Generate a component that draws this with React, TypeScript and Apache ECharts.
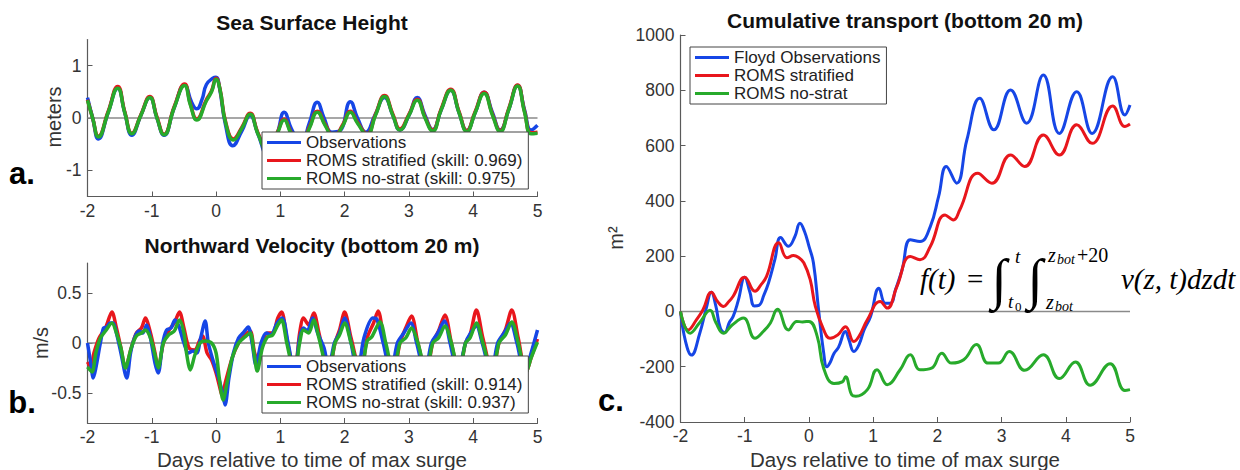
import React, { useEffect, useRef } from 'react';
import * as echarts from 'echarts';

// ---------- data ----------
const dayTicks = [-2, -1, 0, 1, 2, 3, 4, 5];
const sshTicks = [-1, 0, 1];
const velTicks = [-0.5, 0, 0.5];
const transportTicksInterval = 200;

const sshObs: number[][] = [
  [-2, 0.39], [-1.92, 0.0], [-1.83, -0.4], [-1.68, 0.1], [-1.53, 0.57], [-1.42, 0.1], [-1.31, -0.33],
  [-1.17, 0.05], [-1.03, 0.39], [-0.92, 0.0], [-0.81, -0.33], [-0.65, 0.2], [-0.49, 0.63], [-0.38, 0.3],
  [-0.3, 0.175], [-0.22, 0.35], [-0.15, 0.64], [-0.05, 0.76], [0.0, 0.78], [0.05, 0.6], [0.15, -0.15],
  [0.26, -0.53], [0.4, -0.25], [0.53, 0.05], [0.65, -0.3], [0.8, -0.7], [0.95, -0.3], [1.06, 0.11],
  [1.17, -0.2], [1.32, -0.5], [1.45, -0.1], [1.575, 0.3], [1.68, 0.0], [1.8, -0.27], [1.92, -0.25],
  [2.09, 0.31], [2.2, 0.0], [2.33, -0.27], [2.47, 0.05], [2.62, 0.39], [2.75, 0.05], [2.86, -0.23],
  [3.0, 0.05], [3.13, 0.39], [3.25, 0.05], [3.37, -0.22], [3.5, 0.15], [3.65, 0.53], [3.78, 0.1],
  [3.9, -0.24], [4.03, 0.1], [4.17, 0.49], [4.3, 0.1], [4.42, -0.23], [4.55, 0.15], [4.69, 0.62],
  [4.8, 0.15], [4.9, -0.23], [5.0, -0.14],
];
const sshStrat: number[][] = [
  [-2, 0.35], [-1.92, 0.0], [-1.83, -0.35], [-1.68, 0.12], [-1.53, 0.6], [-1.42, 0.12], [-1.31, -0.29],
  [-1.17, 0.06], [-1.03, 0.41], [-0.92, 0.02], [-0.81, -0.31], [-0.65, 0.22], [-0.49, 0.65], [-0.4, 0.27],
  [-0.3, -0.02], [-0.15, 0.35], [-0.07, 0.52], [0.0, 0.76], [0.06, 0.56], [0.15, -0.08], [0.27, -0.4],
  [0.4, -0.18], [0.53, 0.09], [0.65, -0.28], [0.8, -0.6], [0.95, -0.28], [1.06, -0.02], [1.17, -0.28],
  [1.32, -0.48], [1.45, -0.18], [1.575, 0.13], [1.7, -0.13], [1.83, -0.36], [1.97, -0.13], [2.09, 0.13],
  [2.2, -0.08], [2.35, -0.3], [2.48, 0.07], [2.62, 0.43], [2.75, 0.07], [2.86, -0.21], [3.0, 0.07],
  [3.13, 0.36], [3.25, 0.02], [3.37, -0.23], [3.5, 0.17], [3.65, 0.55], [3.78, 0.12], [3.9, -0.24],
  [4.03, 0.12], [4.17, 0.49], [4.3, 0.07], [4.42, -0.24], [4.55, 0.17], [4.69, 0.63], [4.8, 0.12],
  [4.9, -0.28], [5.0, -0.27],
];
const sshNoStrat: number[][] = [
  [-2, 0.34], [-1.92, 0.0], [-1.83, -0.36], [-1.68, 0.1], [-1.53, 0.57], [-1.42, 0.1], [-1.31, -0.3],
  [-1.17, 0.05], [-1.03, 0.39], [-0.92, 0.0], [-0.81, -0.32], [-0.65, 0.2], [-0.49, 0.62], [-0.4, 0.25],
  [-0.3, -0.04], [-0.15, 0.33], [-0.07, 0.5], [0.0, 0.74], [0.06, 0.55], [0.15, -0.1], [0.27, -0.42],
  [0.4, -0.2], [0.53, 0.07], [0.65, -0.3], [0.8, -0.62], [0.95, -0.3], [1.06, -0.04], [1.17, -0.3],
  [1.32, -0.5], [1.45, -0.2], [1.575, 0.11], [1.7, -0.15], [1.83, -0.38], [1.97, -0.15], [2.09, 0.11],
  [2.2, -0.1], [2.35, -0.32], [2.48, 0.05], [2.62, 0.41], [2.75, 0.05], [2.86, -0.23], [3.0, 0.05],
  [3.13, 0.34], [3.25, 0.0], [3.37, -0.25], [3.5, 0.15], [3.65, 0.53], [3.78, 0.1], [3.9, -0.26],
  [4.03, 0.1], [4.17, 0.47], [4.3, 0.05], [4.42, -0.26], [4.55, 0.15], [4.69, 0.61], [4.8, 0.1],
  [4.9, -0.3], [5.0, -0.29],
];

const velObs: number[][] = [
  [-2.0, 0.0], [-1.95, -0.2], [-1.91, -0.35], [-1.87, -0.25], [-1.8, 0.0], [-1.75, 0.15], [-1.7, 0.16],
  [-1.65, 0.2], [-1.6, 0.2], [-1.55, 0.1], [-1.48, -0.1], [-1.39, -0.35], [-1.33, -0.1], [-1.27, 0.05],
  [-1.2, 0.12], [-1.14, 0.1], [-1.08, 0.18], [-1.02, 0.05], [-0.95, -0.2], [-0.9, -0.3], [-0.83, 0.0],
  [-0.77, 0.13], [-0.7, 0.15], [-0.64, 0.23], [-0.58, 0.17], [-0.5, 0.0], [-0.43, -0.1], [-0.36, -0.08],
  [-0.3, -0.1], [-0.24, 0.05], [-0.17, 0.22], [-0.12, 0.0], [-0.04, -0.19], [0.04, -0.35], [0.1, -0.5],
  [0.14, -0.62], [0.2, -0.35], [0.27, -0.1], [0.35, 0.05], [0.42, 0.1], [0.5, 0.16], [0.56, 0.0],
  [0.62, -0.22], [0.7, 0.0], [0.78, 0.1], [0.85, 0.08], [0.95, 0.2], [1.03, 0.25], [1.12, 0.0],
  [1.22, -0.3], [1.3, 0.05], [1.36, 0.15], [1.42, 0.12], [1.5, 0.25], [1.58, 0.1], [1.68, -0.05],
  [1.75, -0.25], [1.84, 0.0], [1.92, 0.1], [2.0, 0.25], [2.1, 0.0], [2.2, -0.3], [2.3, 0.05],
  [2.44, 0.25], [2.5, 0.24], [2.6, 0.0], [2.72, -0.3], [2.82, 0.0], [2.92, 0.1], [3.03, 0.2],
  [3.12, 0.0], [3.25, -0.3], [3.35, 0.0], [3.45, 0.1], [3.55, 0.22], [3.64, 0.0], [3.76, -0.3],
  [3.88, 0.0], [3.96, 0.1], [4.05, 0.17], [4.14, 0.0], [4.28, -0.3], [4.38, 0.0], [4.48, 0.1],
  [4.58, 0.2], [4.68, 0.0], [4.8, -0.3], [4.9, -0.1], [5.0, 0.13],
];
const velStrat: number[][] = [
  [-2.0, -0.19], [-1.95, -0.24], [-1.9, -0.1], [-1.82, 0.05], [-1.72, 0.15], [-1.62, 0.31], [-1.55, 0.15],
  [-1.48, -0.05], [-1.41, -0.25], [-1.32, -0.05], [-1.24, 0.1], [-1.16, 0.15], [-1.1, 0.25], [-1.02, 0.1],
  [-0.95, -0.1], [-0.9, -0.25], [-0.82, 0.0], [-0.74, 0.12], [-0.65, 0.2], [-0.57, 0.31], [-0.5, 0.15],
  [-0.42, -0.05], [-0.33, -0.07], [-0.26, 0.02], [-0.21, 0.07], [-0.14, -0.1], [-0.07, -0.17], [0.0, -0.3],
  [0.06, -0.45], [0.09, -0.52], [0.15, -0.38], [0.25, -0.15], [0.35, 0.0], [0.45, 0.08], [0.53, 0.12],
  [0.6, -0.1], [0.66, -0.2], [0.72, 0.0], [0.8, 0.1], [0.88, 0.1], [0.96, 0.25], [1.02, 0.31], [1.1, 0.05],
  [1.22, -0.3], [1.3, 0.1], [1.36, 0.25], [1.44, 0.18], [1.52, 0.3], [1.6, 0.1], [1.75, -0.3], [1.85, 0.0],
  [1.92, 0.13], [2.0, 0.31], [2.1, 0.05], [2.25, -0.3], [2.35, 0.05], [2.45, 0.2], [2.52, 0.32], [2.62, 0.0],
  [2.76, -0.3], [2.86, 0.0], [2.95, 0.15], [3.04, 0.27], [3.14, 0.0], [3.27, -0.3], [3.37, 0.0], [3.46, 0.12],
  [3.56, 0.28], [3.66, 0.0], [3.78, -0.3], [3.88, 0.0], [3.95, 0.08], [4.05, 0.33], [4.15, 0.05], [4.3, -0.3],
  [4.4, 0.0], [4.5, 0.13], [4.6, 0.33], [4.7, 0.05], [4.82, -0.3], [4.9, -0.15], [5.0, 0.04],
];
const velNoStrat: number[][] = [
  [-2.0, -0.24], [-1.93, -0.29], [-1.87, -0.1], [-1.8, 0.05], [-1.72, 0.12], [-1.62, 0.2], [-1.55, 0.1],
  [-1.48, -0.05], [-1.41, -0.25], [-1.32, -0.05], [-1.24, 0.07], [-1.16, 0.1], [-1.1, 0.13], [-1.02, 0.05],
  [-0.95, -0.12], [-0.9, -0.25], [-0.82, 0.0], [-0.74, 0.08], [-0.65, 0.12], [-0.57, 0.23], [-0.5, 0.1],
  [-0.46, -0.1], [-0.4, -0.27], [-0.33, -0.12], [-0.25, 0.0], [-0.17, 0.02], [-0.07, 0.0], [0.0, -0.1],
  [0.05, -0.35], [0.11, -0.57], [0.17, -0.4], [0.25, -0.15], [0.35, 0.0], [0.45, 0.06], [0.53, 0.1],
  [0.59, -0.1], [0.64, -0.28], [0.72, -0.05], [0.8, 0.06], [0.88, 0.08], [0.96, 0.18], [1.02, 0.23],
  [1.1, 0.0], [1.22, -0.3], [1.3, 0.0], [1.36, 0.13], [1.44, 0.1], [1.52, 0.23], [1.6, 0.05], [1.75, -0.3],
  [1.85, 0.0], [1.92, 0.08], [2.0, 0.2], [2.1, 0.0], [2.25, -0.3], [2.35, 0.02], [2.42, 0.06], [2.55, 0.21],
  [2.64, 0.0], [2.76, -0.3], [2.86, 0.0], [2.95, 0.05], [3.04, 0.15], [3.14, 0.0], [3.27, -0.3], [3.37, 0.0],
  [3.46, 0.05], [3.56, 0.17], [3.66, 0.0], [3.78, -0.3], [3.88, 0.0], [3.95, 0.05], [4.05, 0.2], [4.15, 0.0],
  [4.3, -0.3], [4.4, 0.0], [4.5, 0.08], [4.6, 0.21], [4.7, 0.0], [4.82, -0.3], [4.9, -0.15], [5.0, 0.01],
];

const transObs: number[][] = [
  [-2, 0], [-1.92, -110], [-1.83, -158], [-1.7, -79], [-1.6, 10], [-1.52, 69], [-1.45, 20], [-1.38, -60],
  [-1.31, -76], [-1.24, -40], [-1.18, -18], [-1.1, 40], [-1.0, 124], [-0.92, 70], [-0.85, 20], [-0.78, 22],
  [-0.7, 60], [-0.63, 103], [-0.53, 188], [-0.44, 267], [-0.32, 236], [-0.22, 270], [-0.14, 319],
  [-0.07, 290], [0.0, 236], [0.07, 176], [0.15, 6], [0.23, -150], [0.28, -200], [0.33, -185], [0.39, -152],
  [0.46, -130], [0.57, -73], [0.62, -100], [0.7, -145], [0.78, -120], [0.86, -66], [0.96, -18], [1.09, 84],
  [1.19, 30], [1.27, 30], [1.35, 80], [1.45, 150], [1.58, 259], [1.73, 253], [1.89, 307], [2.02, 416],
  [2.14, 524], [2.3, 464], [2.46, 621], [2.66, 771], [2.88, 657], [3.14, 801], [3.39, 681], [3.65, 855],
  [3.9, 644], [4.17, 795], [4.41, 644], [4.73, 849], [4.92, 711], [5.0, 747],
];
const transStrat: number[][] = [
  [-2, 0], [-1.88, -67], [-1.75, -30], [-1.65, 6], [-1.52, 69], [-1.42, 35], [-1.33, 18], [-1.25, 35],
  [-1.18, 55], [-1.0, 124], [-0.84, 73], [-0.75, 95], [-0.66, 127], [-0.47, 248], [-0.34, 194], [-0.24, 202],
  [-0.16, 195], [-0.08, 176], [0.02, 115], [0.1, 18], [0.23, -67], [0.33, -97], [0.45, -85], [0.57, -55],
  [0.7, -109], [0.78, -90], [0.91, -30], [1.11, 36], [1.22, 12], [1.37, 90], [1.58, 199], [1.73, 187],
  [1.89, 235], [2.12, 349], [2.25, 331], [2.35, 368], [2.63, 500], [2.85, 464], [3.14, 566], [3.36, 524],
  [3.65, 638], [3.9, 566], [4.17, 675], [4.41, 608], [4.73, 743], [4.92, 669], [5.0, 678],
];
const transNoStrat: number[][] = [
  [-2, 0], [-1.85, -79], [-1.7, -40], [-1.54, 4], [-1.45, -40], [-1.33, -79], [-1.2, -50], [-1.02, -24],
  [-0.84, -97], [-0.7, -70], [-0.6, -42], [-0.49, 8], [-0.32, -67], [-0.19, -36], [-0.1, -38], [0.0, -36],
  [0.13, -91], [0.23, -206], [0.39, -261], [0.52, -255], [0.57, -236], [0.67, -303], [0.73, -307],
  [0.91, -283], [1.06, -211], [1.22, -265], [1.42, -211], [1.58, -157], [1.73, -211], [1.91, -205],
  [2.07, -151], [2.22, -187], [2.41, -175], [2.61, -120], [2.79, -187], [2.95, -187], [3.12, -145],
  [3.36, -213], [3.65, -157], [3.9, -243], [4.15, -183], [4.38, -267], [4.69, -189], [4.92, -286], [5.0, -283],
];

const zeroLine: number[][] = [[-2, 0], [5, 0]];

const legendA = ['Observations', 'ROMS stratified (skill: 0.969)', 'ROMS no-strat (skill: 0.975)'];
const legendB = ['Observations', 'ROMS stratified (skill: 0.914)', 'ROMS no-strat (skill: 0.937)'];
const legendC = ['Floyd Observations', 'ROMS stratified', 'ROMS no-strat'];

// ---------- styling ----------
const FONT = '"Liberation Sans", Arial, Helvetica, sans-serif';
const SERIF = '"Liberation Serif", "Times New Roman", serif';
const BLUE = '#1646e6';
const RED = '#e8161c';
const GREEN = '#27aa2b';
const AXIS = '#5a5a5a';
const LABEL = '#333333';
const ZERO = '#8a8a8a';

const grids = [
  { left: 87.5, top: 39.5, width: 450, height: 157 },
  { left: 87.5, top: 263, width: 450, height: 160 },
  { left: 680.5, top: 35, width: 449.5, height: 387 },
];

function xAxis(gridIndex: number) {
  return {
    type: 'value', gridIndex, min: -2, max: 5, interval: 1,
    axisLine: { show: true, onZero: false, lineStyle: { color: AXIS, width: 1.2 } },
    axisTick: { show: true, inside: true, length: 5, customValues: dayTicks, lineStyle: { color: AXIS } },
    axisLabel: { customValues: dayTicks, margin: 5, fontSize: 17.5, fontFamily: FONT, color: LABEL },
    splitLine: { show: false },
  };
}

function yAxisCustom(gridIndex: number, min: number, max: number, ticks: number[]) {
  return {
    type: 'value', gridIndex, min, max,
    axisLine: { show: true, onZero: false, lineStyle: { color: AXIS, width: 1.2 } },
    axisTick: { show: true, inside: true, length: 5, customValues: ticks, lineStyle: { color: AXIS } },
    axisLabel: { customValues: ticks, margin: 6, fontSize: 17.5, fontFamily: FONT, color: LABEL,
      formatter: (v: number) => String(v) },
    splitLine: { show: false },
  };
}

function line(name: string, data: number[][], color: string, idx: number, width: number, smooth: number) {
  return {
    type: 'line', name, data, xAxisIndex: idx, yAxisIndex: idx, color,
    showSymbol: false, symbol: 'none', smooth, silent: true,
    lineStyle: { color, width }, itemStyle: { color },
  };
}

function zero(idx: number) {
  return {
    type: 'line', name: 'zero' + idx, data: zeroLine, xAxisIndex: idx, yAxisIndex: idx,
    showSymbol: false, symbol: 'none', silent: true, z: 1,
    lineStyle: { color: ZERO, width: 1.6 }, itemStyle: { color: ZERO },
  };
}

function legend(data: string[], left: number, top: number) {
  return {
    data, left, top, orient: 'vertical', selectedMode: false,
    icon: 'rect', itemWidth: 34, itemHeight: 3, itemGap: 1,
    padding: [2, 6, 2, 5],
    backgroundColor: '#ffffff', borderColor: '#444', borderWidth: 1, borderRadius: 0,
    textStyle: { fontSize: 17, fontFamily: FONT, color: '#222', lineHeight: 17 },
  };
}

function txt(text: string, x: number, y: number, opts: any = {}) {
  return {
    type: 'text', x, y, silent: true, rotation: opts.rotation || 0, z: 10,
    style: {
      text, fill: opts.fill || '#111', fontSize: opts.size || 18, fontFamily: opts.family || FONT,
      fontWeight: opts.weight || 'normal', fontStyle: opts.italic ? 'italic' : 'normal',
      align: opts.align || 'center', verticalAlign: 'middle',
    },
  };
}

const option: any = {
  animation: false,
  backgroundColor: '#ffffff',
  grid: grids.map((g) => ({ ...g, containLabel: false })),
  xAxis: [xAxis(0), xAxis(1), xAxis(2)],
  yAxis: [
    yAxisCustom(0, -1.5, 1.5, sshTicks),
    yAxisCustom(1, -0.8, 0.8, velTicks),
    {
      type: 'value', gridIndex: 2, min: -400, max: 1000, interval: transportTicksInterval,
      axisLine: { show: true, onZero: false, lineStyle: { color: AXIS, width: 1.2 } },
      axisTick: { show: true, inside: true, length: 5, lineStyle: { color: AXIS } },
      axisLabel: { margin: 6, fontSize: 17.5, fontFamily: FONT, color: LABEL,
        formatter: (v: number) => String(v) },
      splitLine: { show: false },
    },
  ],
  legend: [legend(legendA, 262, 132), legend(legendB, 262, 356), legend(legendC, 690, 47)],
  series: [
    zero(0), zero(1), zero(2),
    line(legendA[0], sshObs, BLUE, 0, 3.5, 0.5),
    line(legendA[1], sshStrat, RED, 0, 3.5, 0.5),
    line(legendA[2], sshNoStrat, GREEN, 0, 3.5, 0.5),
    line(legendB[1], velStrat, RED, 1, 3.5, 0.3),
    line(legendB[0], velObs, BLUE, 1, 3.5, 0.3),
    line(legendB[2], velNoStrat, GREEN, 1, 3.5, 0.3),
    line(legendC[0], transObs, BLUE, 2, 3, 0.45),
    line(legendC[1], transStrat, RED, 2, 3, 0.45),
    line(legendC[2], transNoStrat, GREEN, 2, 3, 0.45),
  ],
  graphic: [
    txt('Sea Surface Height', 312, 22, { size: 21, weight: 'bold' }),
    txt('Northward Velocity (bottom 20 m)', 312, 245, { size: 21, weight: 'bold' }),
    txt('Cumulative transport (bottom 20 m)', 905, 20, { size: 21, weight: 'bold' }),
    txt('a.', 22, 173, { size: 31, weight: 'bold', fill: '#000' }),
    txt('b.', 22, 402, { size: 31, weight: 'bold', fill: '#000' }),
    txt('c.', 611, 400, { size: 31, weight: 'bold', fill: '#000' }),
    txt('meters', 54, 117, { size: 20, rotation: Math.PI / 2, fill: LABEL }),
    txt('m/s', 41, 343, { size: 20, rotation: Math.PI / 2, fill: LABEL }),
    txt('m²', 616, 238, { size: 20, rotation: Math.PI / 2, fill: LABEL }),
    txt('Days relative to time of max surge', 312, 459, { size: 20.5, fill: LABEL }),
    txt('Days relative to time of max surge', 905, 459, { size: 20.5, fill: LABEL }),
    // formula
    txt('f(t)', 920, 279, { size: 29, italic: true, family: SERIF, align: 'left', fill: '#000' }),
    txt('=', 967, 279, { size: 29, family: SERIF, align: 'left', fill: '#000' }),
    txt('∫', 999, 279, { size: 56, family: SERIF, fill: '#000' }),
    txt('t', 1015, 256, { size: 19, italic: true, family: SERIF, align: 'left', fill: '#000' }),
    txt('t', 1008, 301, { size: 19, italic: true, family: SERIF, align: 'left', fill: '#000' }),
    txt('0', 1015, 306, { size: 13, family: SERIF, align: 'left', fill: '#000' }),
    txt('∫', 1035, 279, { size: 56, family: SERIF, fill: '#000' }),
    txt('z', 1048, 255, { size: 20, italic: true, family: SERIF, align: 'left', fill: '#000' }),
    txt('bot', 1057, 259, { size: 14, italic: true, family: SERIF, align: 'left', fill: '#000' }),
    txt('+20', 1077, 255, { size: 20, family: SERIF, align: 'left', fill: '#000' }),
    txt('z', 1046, 302, { size: 20, italic: true, family: SERIF, align: 'left', fill: '#000' }),
    txt('bot', 1055, 306, { size: 14, italic: true, family: SERIF, align: 'left', fill: '#000' }),
    txt('v(z, t)dzdt', 1121, 279, { size: 29, italic: true, family: SERIF, align: 'left', fill: '#000' }),
  ],
};

export default function App() {
  const ref = useRef<HTMLDivElement>(null);
  useEffect(() => {
    if (!ref.current) return;
    const chart = echarts.init(ref.current, undefined, { renderer: 'svg', width: 1240, height: 470 });
    chart.setOption(option);
    return () => chart.dispose();
  }, []);
  return (
    <div
      ref={ref}
      style={{ position: 'fixed', left: 0, top: 0, width: 1240, height: 470, background: '#fff' }}
    />
  );
}
